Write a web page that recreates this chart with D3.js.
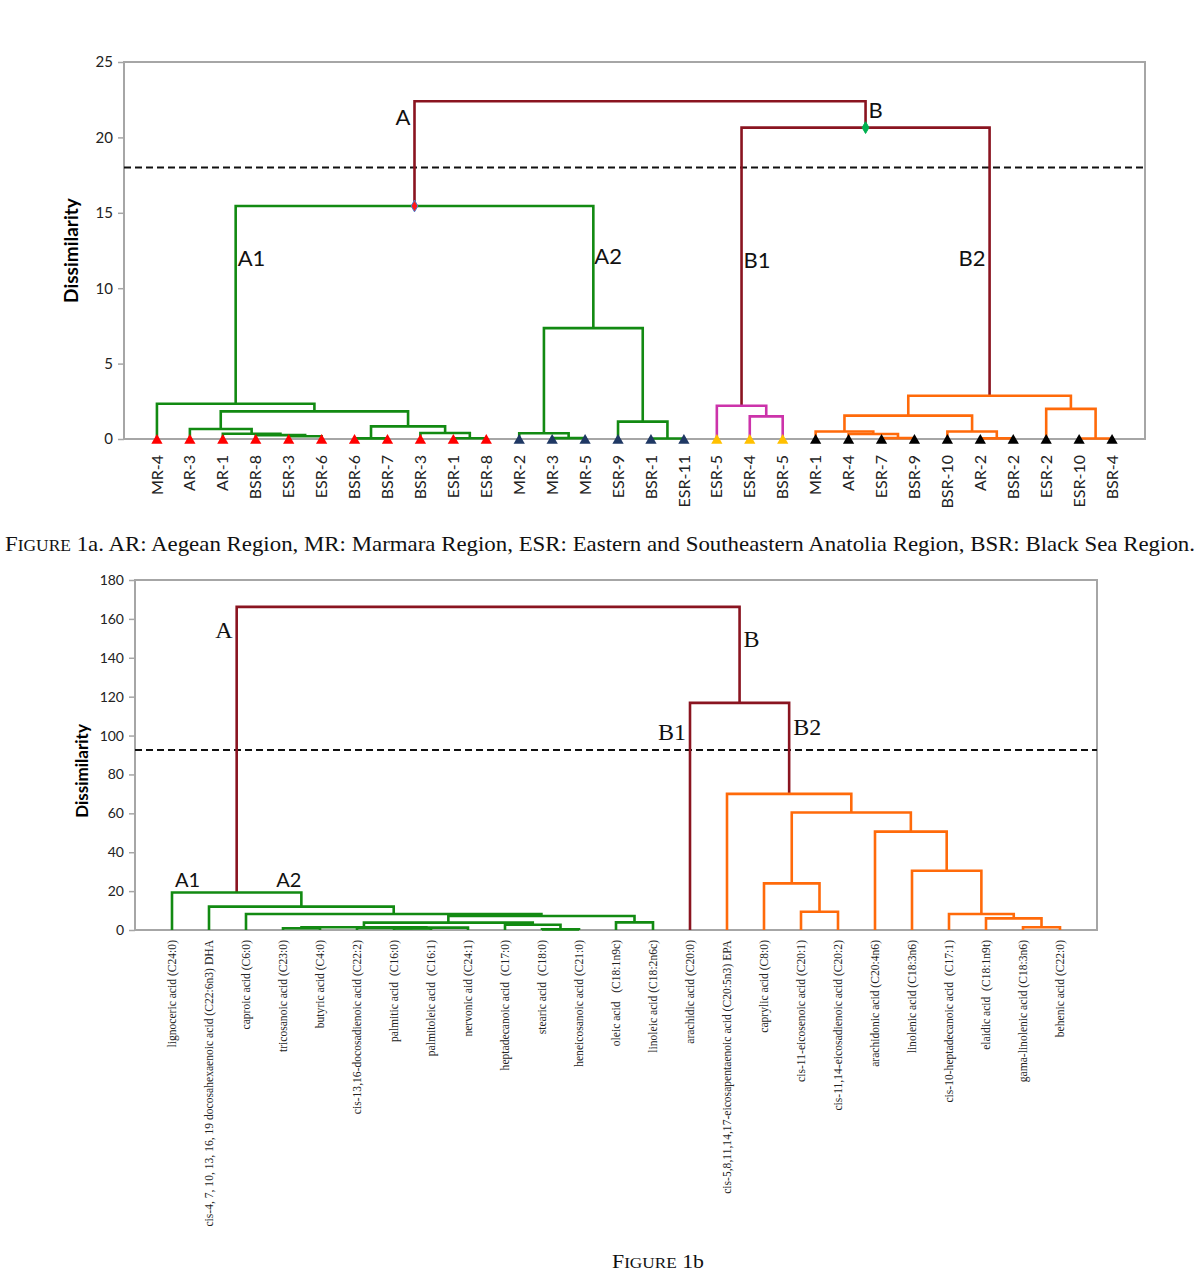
<!DOCTYPE html>
<html>
<head>
<meta charset="utf-8">
<script src="https://cdn.jsdelivr.net/npm/d3@7"></script>
<style>
  body { margin: 0; background: #fff; }
  svg { display: block; }
  .sans { font-family: Lato, "Open Sans", sans-serif; }
  .serif { font-family: "Liberation Serif", "Times New Roman", serif; }
  .leaf-b { white-space: pre; }
</style>
</head>
<body>
<svg id="fig" width="1200" height="1272"></svg>
<script>
// ---- Figure 1a : samples ----
const leavesTop = [
  'MR-4', 'AR-3', 'AR-1', 'BSR-8', 'ESR-3', 'ESR-6', 'BSR-6', 'BSR-7', 'BSR-3', 'ESR-1',
  'ESR-8', 'MR-2', 'MR-3', 'MR-5', 'ESR-9', 'BSR-1', 'ESR-11', 'ESR-5', 'ESR-4', 'BSR-5',
  'MR-1', 'AR-4', 'ESR-7', 'BSR-9', 'BSR-10', 'AR-2', 'BSR-2', 'ESR-2', 'ESR-10', 'BSR-4'
];

// [id, left child, right child, dissimilarity]; numbers are leaf indexes
const mergesTop = [
  ['t1', 4, 5, 0.18], ['t2', 3, 't1', 0.26], ['t3', 2, 't2', 0.35], ['t4', 1, 't3', 0.66],
  ['t5', 6, 7, 0.04], ['t6', 9, 10, 0.05], ['t7', 8, 't6', 0.40], ['t8', 't5', 't7', 0.84],
  ['t9', 't4', 't8', 1.83], ['A1', 0, 't9', 2.34],
  ['t10', 12, 13, 0.06], ['t11', 11, 't10', 0.38], ['t12', 15, 16, 0.03], ['t13', 14, 't12', 1.15],
  ['A2', 't11', 't13', 7.35],
  ['A', 'A1', 'A2', 15.45],
  ['t14', 18, 19, 1.5], ['B1', 17, 't14', 2.2],
  ['t15', 22, 23, 0.06], ['t16', 21, 't15', 0.33], ['t17', 20, 't16', 0.5],
  ['t18', 25, 26, 0.04], ['t19', 24, 't18', 0.5], ['t20', 't17', 't19', 1.55],
  ['t21', 28, 29, 0.03], ['t22', 27, 't21', 2.0], ['B2', 't20', 't22', 2.87],
  ['B', 'B1', 'B2', 20.65],
  ['root', 'A', 'B', 22.4]
];
const cutTop = 18;
const yTicksTop = [0, 5, 10, 15, 20, 25];
// [text, node, dissimilarity of label]
const labelsTop = [['A', 'A', 21.3], ['B', 'B', 21.8], ['A1', 'A1', 12.0], ['A2', 'A2', 12.1], ['B1', 'B1', 11.85], ['B2', 'B2', 12.0]];

// ---- Figure 1b : fatty acids ----
const leavesBottom = [
  'lignoceric acid (C24:0)',
  'cis-4, 7, 10, 13, 16, 19 docosahexaenoic acid (C22:6n3) DHA',
  'caproic acid (C6:0)',
  'tricosanoic acid (C23:0)',
  'butyric acid (C4:0)',
  'cis-13,16-docosadienoic acid (C22:2)',
  'palmitic acid  (C16:0)',
  'palmitoleic acid  (C16:1)',
  'nervonic aid (C24:1)',
  'heptadecanoic acid  (C17:0)',
  'stearic acid  (C18:0)',
  'heneicosanoic acid (C21:0)',
  'oleic acid   (C18:1n9c)',
  'linoleic acid (C18:2n6c)',
  'arachidic acid (C20:0)',
  'cis-5,8,11,14,17-eicosapentaenoic acid (C20:5n3) EPA',
  'caprylic acid (C8:0)',
  'cis-11-eicosenoic acid (C20:1)',
  'cis-11,14-eicosadienoic acid (C20:2)',
  'arachidonic acid (C20:4n6)',
  'linolenic acid (C18:3n6)',
  'cis-10-heptadecanoic acid  (C17:1)',
  'elaidic acid  (C18:1n9t)',
  'gama-linolenic acid (C18:3n6)',
  'behenic acid (C22:0)'
];
const mergesBottom = [
  ['b1', 3, 4, 0.9], ['b2', 6, 7, 0.8], ['b3', 5, 'b2', 1.0], ['b4', 'b3', 8, 1.2], ['b5', 'b1', 'b4', 1.4],
  ['b6', 10, 11, 0.3], ['b7', 9, 'b6', 2.7], ['b8', 'b5', 'b7', 3.8], ['b9', 12, 13, 3.9],
  ['b10', 'b8', 'b9', 7.2], ['b11', 2, 'b10', 8.2], ['A2', 1, 'b11', 12.0], ['A', 0, 'A2', 19.3],
  ['c1', 17, 18, 9.4], ['c2', 16, 'c1', 24.0], ['c3', 23, 24, 1.4], ['c4', 22, 'c3', 6.0],
  ['c5', 21, 'c4', 8.2], ['c6', 20, 'c5', 30.5], ['c7', 19, 'c6', 50.6], ['c8', 'c2', 'c7', 60.4],
  ['B2', 15, 'c8', 70.0], ['B', 14, 'B2', 116.8],
  ['root', 'A', 'B', 166.2]
];
const cutBottom = 92.6;
const yTicksBottom = [0, 20, 40, 60, 80, 100, 120, 140, 160, 180];
const labelsBottom = [['A', 'A', 154.3], ['B', 'B', 150], ['B1', 14, 101.8], ['B2', 'B2', 104.4], ['A1', 0, 25.7], ['A2', 'A2', 25.7]];

const maroon = '#8a1420';
const colors = { green: '#128a12', magenta: '#cc33aa', orange: '#ff6a0a' };
const svg = d3.select('#fig');

function layout(leaves, merges, x) {
  const nodes = new Map();
  leaves.forEach((name, i) => nodes.set(i, { leaf: i, x: x(name), h: 0 }));
  merges.forEach(([id, a, b, h]) => {
    const l = nodes.get(a);
    const r = nodes.get(b);
    nodes.set(id, { id, l, r, h, x: (l.x + r.x) / 2 });
  });
  return nodes;
}

function paint(node, color, groups, key) {
  if (node.id && groups[node.id]) color = groups[node.id];
  node[key] = color;
  if (node.l) {
    paint(node.l, color, groups, key);
    paint(node.r, color, groups, key);
  }
}

function dendrogram(cfg) {
  const { leaves, merges, domainMax, ticks, frame, cut } = cfg;
  const g = svg.append('g');
  const x = d3.scalePoint().domain(leaves).range([frame.left, frame.right]).padding(1);
  const y = d3.scaleLinear().domain([0, domainMax]).range([frame.bottom, frame.top]);

  const nodes = layout(leaves, merges, x);
  const root = nodes.get('root');
  paint(root, maroon, cfg.lineGroups, 'color');
  if (cfg.markerGroups) paint(root, null, cfg.markerGroups, 'marker');

  // frame
  g.append('rect')
    .attr('x', frame.left).attr('y', frame.top)
    .attr('width', frame.right - frame.left).attr('height', frame.bottom - frame.top)
    .attr('fill', 'none').attr('stroke', '#a6a6a6').attr('stroke-width', 2);

  const axis = d3.axisLeft(y).tickValues(ticks).tickSize(6).tickPadding(5);
  const ga = g.append('g')
    .attr('class', 'sans')
    .attr('transform', `translate(${frame.left},0)`)
    .call(axis);
  ga.select('.domain').remove();
  ga.selectAll('.tick line').attr('stroke', '#a6a6a6').attr('stroke-width', 1.5);
  ga.selectAll('.tick text').attr('fill', '#222').style('font-size', cfg.tickSize + 'px');

  g.append('text')
    .attr('class', 'sans')
    .attr('transform', `translate(${cfg.titleX},${(frame.top + frame.bottom) / 2 + cfg.titleShift}) rotate(-90)`)
    .attr('text-anchor', 'middle')
    .style('font-size', cfg.titleSize + 'px')
    .style('font-weight', 'bold')
    .text('Dissimilarity');

  // cut line
  g.append('line')
    .attr('x1', frame.left).attr('x2', frame.right)
    .attr('y1', y(cut)).attr('y2', y(cut))
    .attr('stroke', '#111').attr('stroke-width', 2).attr('stroke-dasharray', '7,4');

  // links
  const internal = merges.map(m => nodes.get(m[0])).sort((a, b) => b.h - a.h);
  g.append('g')
    .selectAll('path')
    .data(internal)
    .join('path')
    .attr('d', d => `M${d.l.x},${y(d.l.h)}V${y(d.h)}H${d.r.x}V${y(d.r.h)}`)
    .attr('fill', 'none')
    .attr('stroke', d => d.color)
    .attr('stroke-width', 2.6);

  // leaf markers
  if (cfg.markerGroups) {
    g.append('g')
      .selectAll('path')
      .data(leaves.map((_, i) => nodes.get(i)))
      .join('path')
      .attr('transform', d => `translate(${d.x},${y(0) + 1.5})`)
      .attr('d', d3.symbol(d3.symbolTriangle, 55))
      .attr('fill', d => d.marker);
  }

  // leaf labels
  g.append('g')
    .selectAll('text')
    .data(leaves)
    .join('text')
    .attr('class', cfg.leafClass)
    .attr('transform', d => `translate(${x(d)},${cfg.leafTop}) rotate(-90)`)
    .attr('text-anchor', 'end')
    .attr('dy', '0.35em')
    .style('font-size', cfg.leafSize + 'px')
    .attr('fill', '#222')
    .text(d => d);

  return { g, x, y, nodes };
}

// ---- top chart ----
const top1 = dendrogram({
  leaves: leavesTop,
  merges: mergesTop,
  domainMax: 25,
  ticks: yTicksTop,
  frame: { left: 124, right: 1145, top: 62, bottom: 439 },
  cut: cutTop,
  lineGroups: { A: colors.green, B1: colors.magenta, B2: colors.orange },
  markerGroups: { A1: '#ff0000', A2: '#1f3864', B1: '#ffc000', B2: '#000' },
  tickSize: 15,
  titleX: 78, titleShift: 0, titleSize: 19,
  leafTop: 455, leafSize: 16, leafClass: 'sans'
});

// node markers
[['A', '#ff1a1a', '#4a7fd0'], ['B', '#00b050', '#00b050']].forEach(([id, fill, stroke]) => {
  const n = top1.nodes.get(id);
  top1.g.append('path')
    .attr('transform', `translate(${n.x},${top1.y(n.h)})`)
    .attr('d', d3.symbol(d3.symbolDiamond, 40))
    .attr('fill', fill).attr('stroke', stroke).attr('stroke-width', 1);
});

function clusterLabels(chart, labels, styles) {
  chart.g.append('g')
    .selectAll('text')
    .data(labels)
    .join('text')
    .attr('class', d => styles[d[0]].cls)
    .attr('x', d => chart.nodes.get(d[1]).x + styles[d[0]].dx)
    .attr('y', d => chart.y(d[2]))
    .attr('dy', '0.35em')
    .attr('text-anchor', d => styles[d[0]].anchor)
    .style('font-size', d => styles[d[0]].size + 'px')
    .attr('fill', '#111')
    .text(d => d[0]);
}

clusterLabels(top1, labelsTop, {
  A: { cls: 'sans', dx: -4, anchor: 'end', size: 22 },
  B: { cls: 'sans', dx: 3, anchor: 'start', size: 22 },
  A1: { cls: 'sans', dx: 2, anchor: 'start', size: 22 },
  A2: { cls: 'sans', dx: 1, anchor: 'start', size: 22 },
  B1: { cls: 'sans', dx: 2, anchor: 'start', size: 22 },
  B2: { cls: 'sans', dx: -4, anchor: 'end', size: 22 }
});

// ---- bottom chart ----
const bottom1 = dendrogram({
  leaves: leavesBottom,
  merges: mergesBottom,
  domainMax: 180,
  ticks: yTicksBottom,
  frame: { left: 135, right: 1097, top: 580, bottom: 930 },
  cut: cutBottom,
  lineGroups: { A: colors.green, B2: colors.orange },
  markerGroups: null,
  tickSize: 14,
  titleX: 88, titleShift: 16, titleSize: 17,
  leafTop: 940, leafSize: 11.6, leafClass: 'serif leaf-b'
});

clusterLabels(bottom1, labelsBottom, {
  A: { cls: 'serif', dx: -4, anchor: 'end', size: 24 },
  B: { cls: 'serif', dx: 4, anchor: 'start', size: 24 },
  B1: { cls: 'serif', dx: -4, anchor: 'end', size: 24 },
  B2: { cls: 'serif', dx: 4, anchor: 'start', size: 24 },
  A1: { cls: 'sans', dx: 3, anchor: 'start', size: 20 },
  A2: { cls: 'sans', dx: 0, anchor: 'end', size: 20 }
});

// ---- captions ----
const cap1 = svg.append('text')
  .attr('class', 'serif')
  .attr('x', 5).attr('y', 551)
  .attr('textLength', 1190).attr('lengthAdjust', 'spacingAndGlyphs')
  .style('font-size', '21px').attr('fill', '#111');
cap1.append('tspan').text('F');
cap1.append('tspan').style('font-size', '16px').text('IGURE');
cap1.append('tspan').text(' 1a. AR: Aegean Region, MR: Marmara Region, ESR: Eastern and Southeastern Anatolia Region, BSR: Black Sea Region.');

const cap2 = svg.append('text')
  .attr('class', 'serif')
  .attr('x', 612).attr('y', 1268)
  .attr('textLength', 92).attr('lengthAdjust', 'spacingAndGlyphs')
  .style('font-size', '19px').attr('fill', '#111');
cap2.append('tspan').text('F');
cap2.append('tspan').style('font-size', '15px').text('IGURE');
cap2.append('tspan').text(' 1b');
</script>
</body>
</html>
